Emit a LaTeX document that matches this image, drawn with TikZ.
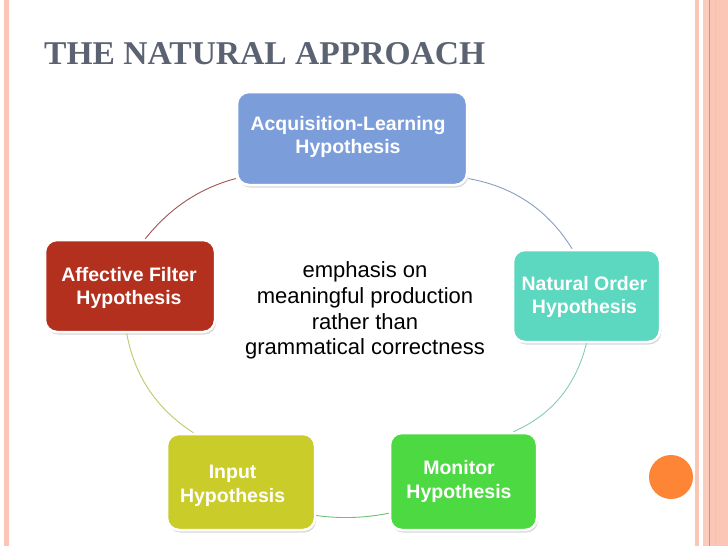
\documentclass[tikz,border=0pt]{standalone}
\usepackage{fontspec}
\newfontfamily\arialfont{Liberation Sans}
\newfontfamily\titlefont{Liberation Serif}
\usetikzlibrary{shadows,calc}
\definecolor{peach}{HTML}{FBC6B5}
\definecolor{peachlight}{HTML}{F9CDBE}
\definecolor{peachline}{HTML}{E88C5C}
\definecolor{titlegray}{HTML}{5B6272}
\definecolor{acqblue}{HTML}{7B9EDB}
\definecolor{affred}{HTML}{B3301E}
\definecolor{natteal}{HTML}{5CD8C0}
\definecolor{inpyellow}{HTML}{CACC2A}
\definecolor{mongreen}{HTML}{4CD942}
\definecolor{dotorange}{HTML}{FD8535}
\definecolor{arcA}{HTML}{A05552}
\definecolor{arcB}{HTML}{8A9CC8}
\definecolor{arcC}{HTML}{C2C86A}
\definecolor{arcD}{HTML}{86CBBF}
\definecolor{arcE}{HTML}{6EC07A}
\tikzset{
  hypbox/.style={draw=white, line width=2.5pt, rounded corners=12pt, inner sep=0pt,
    drop shadow={opacity=0.3, shadow xshift=1.2pt, shadow yshift=-2.5pt}},
  boxtext/.style={text=white, align=center, inner sep=0pt,
    font=\arialfont\bfseries\fontsize{19.5}{23.5}\selectfont},
  cyclearc/.style={line width=0.9pt}
}
\begin{document}
\begin{tikzpicture}[x=1pt,y=-1pt]
\useasboundingbox (0,0) rectangle (728,546);
\fill[white] (0,0) rectangle (728,546);
% page borders
\fill[peach] (4,0) rectangle (9,546);
\fill[peach] (695,0) rectangle (699,546);
\fill[peachlight] (703,0) rectangle (728,546);
\fill[peach] (710,0) rectangle (728,546);
\fill[peachline] (709,0) rectangle (710.3,546);
\fill[peachlight!80!peachline] (715,0) rectangle (716,546);
\fill[dotorange] (671,477) circle (22);
% title
\node[anchor=base west, inner sep=0pt, text=titlegray] (title) at (44,64)
  {\resizebox{441pt}{22pt}{\titlefont\bfseries THE NATURAL APPROACH}};
% boxes
\node[hypbox, fill=acqblue, minimum width=230pt, minimum height=93pt] (acq) at (352,138.5) {};
\node[hypbox, fill=affred, minimum width=170pt, minimum height=92pt] (aff) at (130,286) {};
\node[hypbox, fill=natteal, minimum width=147pt, minimum height=92pt] (nat) at (586.5,296) {};
\node[hypbox, fill=inpyellow, minimum width=148pt, minimum height=96pt] (inp) at (241,482) {};
\node[hypbox, fill=mongreen, minimum width=147pt, minimum height=97pt] (mon) at (463.5,481.5) {};
% arcs (quadratic-like curves)
\draw[cyclearc, arcA] (acq.199) .. controls ($(acq.199)!0.667!(181.7,192.9)$) and ($(aff.72.6)!0.667!(181.7,192.9)$) .. (aff.72.6);
\draw[cyclearc, arcB] (acq.341.6) .. controls ($(acq.341.6)!0.667!(536.1,190.6)$) and ($(nat.107.5)!0.667!(536.1,190.6)$) .. (nat.107.5);
\draw[cyclearc, arcC] (aff.266.3) .. controls ($(aff.266.3)!0.667!(138.3,397.3)$) and ($(inp.134.4)!0.667!(138.3,397.3)$) .. (inp.134.4);
\draw[cyclearc, arcD] (nat.270) .. controls ($(nat.270)!0.667!(570.7,406.8)$) and ($(mon.45.6)!0.667!(570.7,406.8)$) .. (mon.45.6);
\draw[cyclearc, arcE] (inp.336) .. controls ($(inp.336)!0.667!(352.5,520.5)$) and ($(mon.203.9)!0.667!(352.5,520.5)$) .. (mon.203.9);
% box texts
\node[boxtext] (acqt) at (348,137) {Acquisition-Learning\\Hypothesis};
\node[boxtext] (afft) at (129,288) {Affective Filter\\Hypothesis};
\node[boxtext] (natt) at (584.5,297) {Natural Order\\Hypothesis};
\node[boxtext] (inpt) at (232.6,486) {Input\\Hypothesis};
\node[boxtext] (mont) at (459,481.7) {Monitor\\Hypothesis};
% center text
\node[align=center, inner sep=0pt, font=\arialfont\fontsize{22}{25.7}\selectfont] (center) at (365,310.5)
  {emphasis on\\meaningful production\\rather than\\grammatical correctness};
\end{tikzpicture}
\end{document}
